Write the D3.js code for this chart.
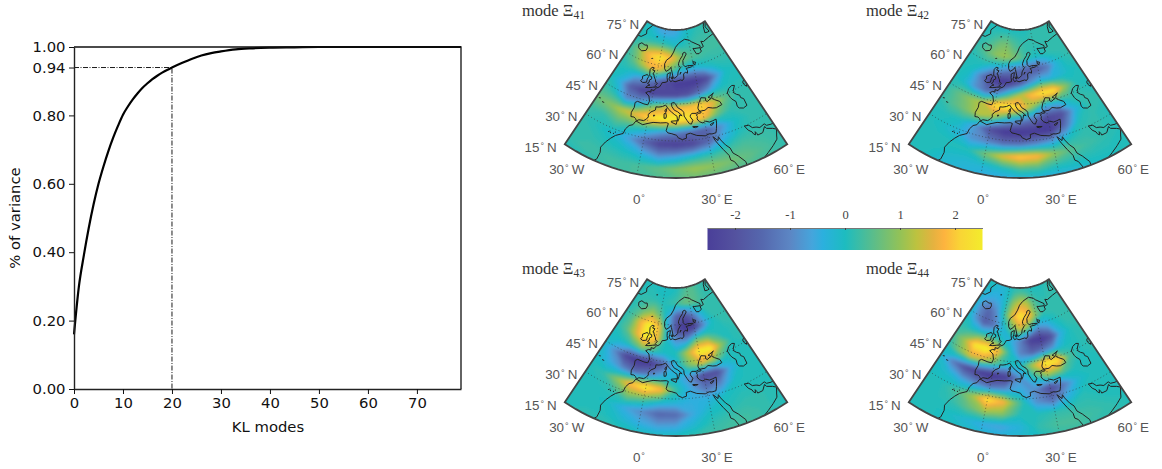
<!DOCTYPE html>
<html>
<head>
<meta charset="utf-8">
<script src="https://cdn.jsdelivr.net/npm/d3@7"></script>
<style>
  html, body { margin: 0; padding: 0; background: #fff; }
  svg { display: block; }
</style>
</head>
<body>
<svg id="chart" width="1162" height="469"></svg>
<script>
// cumulative variance against KL mode
const klModes = [0, 1, 2, 3, 4, 5, 6, 7, 8, 9, 10, 11, 12, 13, 14, 15, 16, 17, 18, 19, 20, 22, 24, 26, 28, 30, 33, 36, 40, 45, 50, 60, 70, 79];
const klVariance = [0.16, 0.30, 0.39, 0.47, 0.54, 0.60, 0.65, 0.695, 0.735, 0.77, 0.802, 0.826, 0.847, 0.865, 0.881, 0.894, 0.906, 0.916, 0.925, 0.933, 0.94, 0.953, 0.965, 0.975, 0.982, 0.987, 0.993, 0.996, 0.998, 0.999, 1, 1, 1, 1];
const xTicks = [0, 10, 20, 30, 40, 50, 60, 70];
const yTicks = [0, 0.2, 0.4, 0.6, 0.8, 0.94, 1];
const cutMode = 20;
const cutVariance = 0.94;

// field values on a lon/lat grid, estimated from each map panel
const gridLons = [-30, -22.5, -15, -7.5, 0, 7.5, 15, 22.5, 30, 37.5, 45, 52.5, 60];
const gridLats = [73.5, 68.5, 63.5, 58.5, 53.5, 48.5, 43.5, 38.5, 33.5, 28.5, 23.5, 18.5, 13.5];

const mode41 = [
  [.1, 0, -.2, -.5, -.6, -.6, -.5, -.2, 0, .1, .2, .2, .2],
  [.1, .1, .2, .3, .3, .2, 0, .1, .2, .3, .3, .3, .3],
  [.3, .8, 1.6, 2.1, 2.4, 2.1, 1.5, .8, .5, .4, .3, .3, .3],
  [.2, .5, 1.1, 1.7, 1.8, 1, .2, -.3, -.4, -.1, .1, .2, .2],
  [.1, 0, -.4, -.7, -1.3, -2.1, -2.5, -2.6, -2.6, -2.1, -.8, 0, .1],
  [.1, -.4, -1.7, -2.3, -2.4, -2.2, -2.1, -1.9, -1.2, -.5, 0, .1, .1],
  [.3, .1, -.9, -.6, .5, 1.3, 1.7, 1.9, 2.2, 1.6, .6, .2, .2],
  [.7, .9, 1.3, 1.7, 2.3, 2.6, 2.6, 2.4, 1.9, .7, .2, .2, .2],
  [.3, .2, .5, .3, 0, -.5, -.9, -1.3, -1.6, -.8, 0, .2, .2],
  [.2, .1, -.1, -.6, -1.5, -2.3, -2.4, -2.2, -1.5, -.4, .1, .2, .2],
  [.2, .2, .1, 0, -.3, -.8, -.5, -.1, .1, .3, .4, .3, .2],
  [.2, .3, .3, .3, .4, .6, .9, 1.1, 1, .8, .6, .4, .2],
  [.1, .1, .2, .3, .4, .4, .5, .6, .5, .4, .4, .3, .2]
];
const mode42 = [
  [.1, .1, .1, .1, .1, .1, .1, .1, .2, .2, .2, .2, .2],
  [.1, .2, .4, .7, .8, .5, .3, .2, .2, .2, .2, .2, .2],
  [.2, .4, .7, 1, 1.1, .9, .6, .2, 0, .1, .2, .2, .2],
  [.1, .1, .1, -.3, -.6, -1.1, -1.4, -1.7, -1.7, -1.2, -.3, .1, .2],
  [.1, 0, -.9, -2.2, -2.6, -2.5, -1.8, -.8, -.1, -.3, -.2, 0, .1],
  [.1, -.1, -.8, -1.3, -1, .3, 1.3, 2, 2.5, 2.4, 1, .1, .1],
  [.2, .6, 1, 1.3, 2.3, 2.6, 2.2, 1, -.3, -.2, .2, .2, .1],
  [.2, .5, .8, 1.3, 1, -.1, -.8, -1.3, -2.2, -2, -.4, .2, .2],
  [.1, .1, 0, -.7, -2, -2.6, -2.7, -2.6, -2.6, -1.3, .1, .2, .1],
  [.1, 0, -.2, -.8, -1, -1.3, -1.2, -.9, -.6, 0, .2, .2, .1],
  [.1, .1, .1, .1, .8, 1.6, 2.1, 1.9, 1, .5, .3, .2, .1],
  [.1, .1, -.1, -.2, -.2, 0, .4, .4, .1, .1, .1, .1, .1],
  [.1, 0, -.2, -.3, -.5, -.6, -.6, -.6, -.5, -.3, -.1, 0, .1]
];
const mode43 = [
  [.1, .1, .1, 0, 0, 0, .1, .3, .5, .5, .3, .2, .2],
  [.1, .2, .2, .2, .1, .2, .3, .6, .7, .5, .3, .2, .2],
  [.1, .3, .7, 1.1, .6, -.3, -1.5, -2, -1.3, -.3, .2, .2, .2],
  [.1, .5, 1.7, 2.6, 2, -.1, -2, -2.7, -2.4, -1, 0, .2, .2],
  [.1, .5, 1.5, 2.6, 2, 0, -.8, -.8, .6, .6, .1, .1, .2],
  [0, 0, .2, .8, .3, 0, .1, 1.3, 2.6, 2.6, 1, .1, .2],
  [-.1, -.9, -2.2, -2.7, -2.5, -1.6, -.3, .8, 1.5, 1, .1, .1, .1],
  [0, -.4, -.9, -1.3, -.9, -.3, -.2, -.9, -2.1, -2, -.4, .1, .1],
  [.1, .2, 1, 2, 2.6, 1.9, .3, -.5, -1.3, -.9, 0, .1, .1],
  [.1, .1, .2, .8, .5, 0, -.2, -.4, -.3, 0, .1, .1, .1],
  [.1, .1, 0, -.5, -.9, -1.5, -1.4, -.5, 0, .1, .2, .2, .1],
  [.1, .1, .1, -.1, -.4, -.6, -.5, -.1, .2, .3, .3, .2, .1],
  [.1, .2, .2, .2, .2, .2, .2, .3, .3, .3, .3, .2, .1]
];
const mode44 = [
  [.1, 0, -.2, -.2, 0, .2, .3, .2, .1, .1, .1, .2, .2],
  [-.2, -.4, -.5, -.4, .1, 1, 1.5, 1.3, .5, .2, .2, .2, .2],
  [-.1, -1, -1.5, -.9, .3, 1.6, 2.4, 2, .9, .2, .2, .2, .2],
  [0, -.8, -1.7, -1.3, -.3, .6, 1.5, .6, -.8, -.5, 0, .2, .2],
  [.2, .1, .2, .3, .1, -.3, -1, -2.4, -2.7, -2, -.4, .1, .2],
  [.4, 1.1, 2.4, 2.7, 2, .3, -1, -1.5, -1, -.5, 0, .1, .2],
  [.1, .8, 1.5, 1.3, .6, 0, 0, 1.3, 2.6, 2.4, .4, .1, .2],
  [-.1, -1.1, -2, -2.4, -2.7, -2.4, -.8, .1, 1, .6, .1, .1, .1],
  [0, -.1, -.5, -.8, -1.1, -.8, -.4, -.9, -2.1, -1.1, -.1, .1, .1],
  [.1, .1, .4, 1.1, 2.4, 1.8, .4, -.8, -1.4, -.4, .1, .1, .1],
  [.1, .1, .2, .6, 1.1, .9, .1, .1, .2, .2, .2, .1, .1],
  [.1, .1, 0, -.2, -.5, -.6, -.3, .2, .4, .4, .3, .2, .1],
  [.1, .1, 0, 0, -.1, -.2, -.1, 0, .2, .3, .2, .2, .1]
];
const panels = [
  { field: mode41, sub: "41", col: 0, row: 0 },
  { field: mode42, sub: "42", col: 1, row: 0 },
  { field: mode43, sub: "43", col: 0, row: 1 },
  { field: mode44, sub: "44", col: 1, row: 1 }
];

// colour bar
const barStops = [-2.5, -2, -1.5, -1, -0.6, -0.4, 0, 0.5, 1, 1.3, 1.6, 1.8, 2.1, 2.5];
const barColors = ["#4a3f99", "#54529f", "#5568ae", "#5c86c4", "#45a5dc", "#2bb0de", "#1dbcc0", "#59bd8c", "#93c257", "#bdc23f", "#e4b240", "#fdb33f", "#f9d535", "#f3ec2c"];
const barTicks = [-2, -1, 0, 1, 2];

// graticule
const latLabels = [75, 60, 45, 30, 15];
const lonLabels = [-30, 0, 30, 60];
const dottedLats = [30, 45, 60];
const dottedLons = [0, 30];

// coastlines, lon/lat
const coastMain = [[-16.8, 13], [-17.5, 14.7], [-16.5, 16], [-16.3, 19], [-17, 21], [-16, 23.7], [-14.5, 26], [-13, 27.7], [-10, 29.5], [-9.7, 31.5], [-8.5, 33.3], [-6.8, 34.1], [-5.9, 35.8], [-5.3, 35.8], [-3, 35.3], [-2, 35.1], [0, 35.9], [3, 36.8], [7, 37], [10, 37.3], [11, 37], [10.5, 35.5], [10.1, 34], [11, 33.2], [13, 32.9], [15.3, 32.3], [16, 31.3], [18, 30.5], [20, 31], [20, 32.5], [22, 32.9], [25, 31.7], [29, 31], [31, 31.5], [32.3, 31.2], [34.3, 31.3], [35, 32.8], [35.8, 35], [36.1, 36.6], [34, 36.3], [32.5, 36.1], [30.6, 36.8], [29, 36.3], [27.4, 37], [26.3, 38.3], [26.7, 39.3], [26.2, 40], [27.5, 40.4], [29, 40.5], [29, 41], [27.5, 41], [26.2, 40.6], [24, 40.8], [23, 40.3], [22.8, 39.5], [24, 38], [23, 36.5], [22, 36.8], [21, 38], [19.5, 40], [19.4, 41.5], [18.5, 42.4], [16, 43.5], [14.5, 45.2], [13.7, 45.6], [12.3, 45.3], [12.5, 44], [14, 42.5], [16, 41.8], [18.4, 40.2], [17, 40.5], [16.6, 39], [16, 38], [15.8, 38.2], [15.6, 40], [14, 40.8], [12.3, 41.8], [10.5, 42.9], [8.8, 44.4], [7, 43.7], [5, 43.3], [3.2, 43.2], [3.2, 41.9], [0.8, 40.8], [-0.3, 39.5], [0, 38.7], [-0.8, 37.6], [-2, 36.8], [-4.5, 36.7], [-5.6, 36], [-6.4, 36.8], [-7.4, 37.2], [-9, 37], [-9.5, 38.7], [-8.8, 41], [-9.2, 43], [-8, 43.7], [-4, 43.4], [-1.7, 43.4], [-1.2, 45], [-2.2, 47], [-4.7, 48], [-3, 48.8], [-1.5, 48.7], [-1.8, 49.7], [0.2, 49.6], [1.6, 50.8], [3.5, 51.4], [4.5, 52.5], [5, 53.3], [7, 53.5], [8.8, 54], [8.2, 55.5], [8.1, 57], [10.5, 57.7], [10.3, 56.2], [9.7, 55], [11, 54], [12.5, 54.4], [14.3, 54], [18.5, 54.7], [19.8, 54.4], [21, 55.3], [21, 57], [22.5, 57.7], [24.2, 57.2], [24.4, 58.3], [23.5, 59.2], [28, 59.5], [30, 60], [25, 60.2], [22.9, 59.9], [21.3, 60.8], [21.3, 62.5], [25.2, 65], [24, 65.8], [22, 65.5], [21.3, 64.5], [18.8, 63], [17.3, 61.5], [17.2, 60.7], [18.8, 59.8], [16.7, 58], [16.4, 56.6], [14.3, 55.5], [12.9, 55.5], [11.2, 58.9], [10.6, 59.8], [9.5, 58.9], [7, 58], [5.5, 59], [5, 61], [6.2, 62.5], [10, 64], [12.5, 66], [14.5, 68], [18, 69.5], [21, 70.2], [25.5, 71], [31, 70.3], [33, 69.5], [41, 67], [40.5, 66.2], [35, 66.5], [33, 66.7], [35, 64.3], [37.5, 64], [40.5, 64.7], [40, 65.8], [44, 66.2], [43.5, 68.5], [46, 68], [53, 68.7], [60, 69], [66, 69]];
const coastArabia = [[48, 30], [48.8, 27.8], [50, 26.5], [50.2, 25.5], [50.8, 24.8], [51.3, 26], [51.6, 25], [51.6, 24.3], [54, 24.2], [56, 26], [56.4, 24.9], [58.6, 23.6], [59.8, 22.5], [58.5, 20.5], [57.7, 19], [55, 17.5], [52, 16], [48, 14], [45, 12.8], [43.5, 12.7], [42.7, 15], [42.7, 16.5], [40.8, 19.5], [39, 21.5], [38.5, 23.8], [37, 25.5], [35.5, 28], [34.9, 29.5], [34.3, 28], [32.6, 29.9], [33, 28.5], [33.8, 27], [35.5, 24], [37.2, 21], [37.3, 19], [38.5, 18], [39.7, 15], [43, 12]];
const coastIran = [[48, 30], [50, 29.5], [51, 28], [52.6, 27.5], [54, 26.6], [56.5, 27], [57, 26], [59, 25.4], [62, 25.2]];
const coastGreenland = [[-33, 68], [-26, 68.5], [-22, 70.5], [-24, 72], [-20, 74.5], [-19, 77]];
const blackSea = [[29, 41.2], [31.5, 41.2], [33.5, 42], [36, 41.3], [38, 41], [41.5, 41.5], [41, 43], [38.5, 44.3], [37, 45.2], [38, 46.8], [39, 47], [35, 46], [36.5, 45.3], [34, 44.4], [33, 45], [33.5, 46], [30.7, 46.5], [28.7, 44.5], [27.7, 42.6], [28, 41.6], [29, 41.2]];
const caspianSea = [[47, 45], [49, 46.5], [51.5, 47], [53, 46.5], [51, 45], [51, 44.5], [50.3, 44.3], [51.5, 43], [53, 42], [52.8, 41], [54, 40], [53.8, 37], [51.5, 36.7], [49.5, 37.5], [49, 38.5], [49.5, 40.4], [48, 42], [47.5, 43], [47, 45]];
const aralSea = [[58.5, 46], [60, 46.6], [61, 45.5], [59, 43.7], [58.3, 45], [58.5, 46]];
const britain = [[-5.7, 50], [-3.5, 50.3], [-1, 50.8], [1.4, 51.2], [0.5, 51.7], [1.7, 52.7], [0.3, 53], [-0.2, 54], [-1.5, 55], [-2.2, 56], [-3, 56], [-2, 57.5], [-4, 57.6], [-3, 58.6], [-5, 58.6], [-6, 57.5], [-5.5, 56], [-5, 55], [-3.5, 54.9], [-3, 54], [-4.5, 53.3], [-4.2, 52.5], [-5.2, 51.8], [-3.2, 51.4], [-4.5, 51], [-5.7, 50]];
const ireland = [[-6, 52.2], [-6.2, 53.5], [-5.6, 54.6], [-7, 55.3], [-8.5, 54.7], [-10, 54], [-9.5, 53], [-10.3, 52], [-8.5, 51.6], [-6, 52.2]];
const iceland = [[-22.5, 64], [-24, 65.3], [-22, 66.4], [-18, 66.1], [-16, 66.5], [-14.6, 65.5], [-15, 64.3], [-18.8, 63.4], [-22.5, 64]];
const corsica = [[9.4, 43], [9.5, 42], [9.2, 41.4], [8.6, 42], [9.4, 43]];
const sardinia = [[9.2, 41.2], [9.7, 40], [9.5, 39.1], [8.5, 39], [8.3, 40.8], [9.2, 41.2]];
const sicily = [[12.5, 38], [15.6, 38.2], [15.1, 36.7], [12.5, 37.6], [12.5, 38]];
const crete = [[23.6, 35.5], [26.3, 35.2], [24.8, 34.9], [23.6, 35.2], [23.6, 35.5]];
const cyprus = [[32.4, 35], [34.5, 35.6], [33.8, 34.9], [33, 34.6], [32.4, 35]];
const mallorca = [[2.4, 39.6], [3.3, 39.8], [3, 39.3], [2.4, 39.6]];
const gotland = [[18.2, 57], [19, 57.9], [18.5, 57.3], [18.2, 57]];
const zealand = [[11, 55.7], [12.5, 56], [12.2, 55], [11, 55.7]];
const ladoga = [[31, 60], [32.5, 61], [30, 61.5], [31, 60]];
const novayaZemlya = [[52, 71], [55, 70.7], [57.5, 70.7], [56, 73], [60, 75], [68, 76.5], [60, 76], [54, 73.5], [52, 71]];
const canaries = [[-16.6, 28.1], [-16.1, 28.5], [-15.6, 28], [-14.2, 28.2], [-13.6, 29]];
const azores = [[-28.5, 38.5], [-28, 38.6], [-25.8, 37.8], [-25.2, 37.8]];
const faroes = [[-7.2, 62], [-6.6, 62.2]];
const janMayen = [[-8.9, 71], [-8.2, 71.1]];
const coastLines = [coastMain, coastArabia, coastIran, coastGreenland, blackSea, caspianSea, aralSea, britain, ireland, iceland, corsica, sardinia, sicily, crete, cyprus, mallorca, gotland, zealand, ladoga, novayaZemlya];
const coastDots = [canaries, azores, faroes, janMayen];

const svg = d3.select("#chart");
const defs = svg.append("defs");
defs.append("filter").attr("id", "soft")
  .attr("x", "-5%").attr("y", "-5%").attr("width", "110%").attr("height", "110%")
  .append("feGaussianBlur").attr("stdDeviation", 1.6);
defs.append("filter").attr("id", "ink")
  .append("feGaussianBlur").attr("stdDeviation", 0.3);

const color = d3.scaleLinear().domain(barStops).range(barColors).clamp(true);

drawVariancePlot();
panels.forEach(drawPanel);
drawColorBar();

function drawVariancePlot() {
  const x = d3.scaleLinear().domain([0, 79]).range([74, 461]);
  const y = d3.scaleLinear().domain([0, 1]).range([389, 47]);
  const g = svg.append("g");

  const line = d3.line().x((d, i) => x(klModes[i])).y(d => y(d)).curve(d3.curveMonotoneX);
  g.append("path").datum(klVariance)
    .attr("d", line)
    .attr("fill", "none").attr("stroke", "#000").attr("stroke-width", 2.2);

  // guide lines at the 94% cut
  g.append("path")
    .attr("d", d3.line()([[x(0), y(cutVariance)], [x(cutMode), y(cutVariance)], [x(cutMode), y(0)]]))
    .attr("fill", "none").attr("stroke", "#000").attr("stroke-width", 0.9)
    .attr("stroke-dasharray", "5,1.5,1,1.5");

  const xAxis = g.append("g").attr("transform", `translate(0,${y(0)})`)
    .call(d3.axisBottom(x).tickValues(xTicks).tickFormat(d3.format("d")).tickSizeInner(5).tickSizeOuter(0).tickPadding(3.5));
  const yAxis = g.append("g").attr("transform", `translate(${x(0)},0)`)
    .call(d3.axisLeft(y).tickValues(yTicks).tickFormat(d3.format(".2f")).tickSizeInner(5).tickSizeOuter(0).tickPadding(3.5));
  [xAxis, yAxis].forEach(a => {
    a.selectAll("text").attr("font-family", "DejaVu Sans").attr("font-size", 14.8).attr("fill", "#111");
    a.selectAll("line").attr("stroke", "#111").attr("stroke-width", 1);
    a.select(".domain").attr("stroke", "#222").attr("stroke-width", 1.4);
  });

  g.append("path")
    .attr("d", d3.line()([[x(0), y(1)], [x(79), y(1)], [x(79), y(0)]]))
    .attr("fill", "none").attr("stroke", "#111").attr("stroke-width", 1.3);

  g.append("text").attr("x", 268).attr("y", 432).attr("text-anchor", "middle")
    .attr("font-family", "DejaVu Sans").attr("font-size", 14.8).attr("fill", "#111")
    .text("KL modes");
  g.append("text").attr("transform", "translate(20,218) rotate(-90)").attr("text-anchor", "middle")
    .attr("font-family", "DejaVu Sans").attr("font-size", 14.8).attr("fill", "#111")
    .text("% of variance");
}

function drawPanel(panel, index) {
  const ox = 676 + panel.col * 344;
  const oy = 178 + panel.row * 258;

  const projection = d3.geoConicEquidistant()
    .parallels([30, 70]).rotate([-15, 0]).scale(141.35).translate([0, 0]);
  const base = projection([15, 15]);
  projection.translate([ox - base[0], oy - base[1]]);
  const geo = d3.geoPath(projection);

  // wedge outline, walked round in lon/lat
  const edgeLons = d3.range(-30, 60.5, 2.5);
  const outline = [
    ...edgeLons.map(lon => projection([lon, 15])),
    ...edgeLons.slice().reverse().map(lon => projection([lon, 75]))
  ];
  const outlineD = d3.line()(outline) + "Z";
  const clipId = "wedge" + index;
  defs.append("clipPath").attr("id", clipId).append("path").attr("d", outlineD);

  const g = svg.append("g");
  const inner = g.append("g").attr("clip-path", `url(#${clipId})`);

  // filled contours of the field on the lon/lat grid
  const nx = gridLons.length, ny = gridLats.length;
  const contours = d3.contours().size([nx, ny]).thresholds(d3.range(-3, 3, 0.06))(panel.field.flat());
  const lonOf = d3.scaleLinear().domain([0.5, nx - 0.5]).range([gridLons[0], gridLons[nx - 1]]);
  const latOf = d3.scaleLinear().domain([0.5, ny - 0.5]).range([gridLats[0], gridLats[ny - 1]]);
  const planar = d3.geoPath();
  const toMap = c => c.map(poly => poly.map(ring => ring.map(p => projection([lonOf(p[0]), latOf(p[1])]))));
  inner.append("g").attr("filter", "url(#soft)")
    .selectAll("path").data(contours).join("path")
    .attr("d", d => planar({ type: "MultiPolygon", coordinates: toMap(d.coordinates) }))
    .attr("fill", d => color(d.value));

  const dots = inner.append("g").attr("fill", "none").attr("stroke", "#333").attr("stroke-opacity", 0.75)
    .attr("stroke-width", 0.8).attr("stroke-dasharray", "1,2.4");
  dottedLats.forEach(lat => {
    dots.append("path").attr("d", geo({ type: "LineString", coordinates: edgeLons.map(lon => [lon, lat]) }));
  });
  dottedLons.forEach(lon => {
    dots.append("path").attr("d", geo({ type: "LineString", coordinates: [[lon, 15], [lon, 75]] }));
  });

  const coast = inner.append("g").attr("fill", "none").attr("stroke", "#222")
    .attr("stroke-width", 1).attr("stroke-linejoin", "round").attr("filter", "url(#ink)");
  coastLines.forEach(c => {
    coast.append("path").attr("d", geo({ type: "LineString", coordinates: c }));
  });
  const isles = inner.append("g").attr("fill", "#222");
  isles.selectAll("circle").data(coastDots.flat()).join("circle")
    .attr("cx", d => projection(d)[0]).attr("cy", d => projection(d)[1]).attr("r", 0.6);

  g.append("path").attr("d", outlineD)
    .attr("fill", "none").attr("stroke", "#444").attr("stroke-width", 1.8).attr("stroke-linejoin", "miter");

  // graticule labels
  const labels = g.append("g").attr("font-family", "Liberation Sans").attr("font-size", 13.4).attr("fill", "#555");
  latLabels.forEach(lat => {
    const p = projection([-30, lat]);
    const t = labels.append("text").attr("x", p[0] - 8).attr("y", p[1] + 7.5).attr("text-anchor", "end");
    addDegreeText(t, lat, "N");
  });
  lonLabels.forEach(lon => {
    const p = projection([lon, 15]);
    const t = labels.append("text").attr("x", p[0] + 2).attr("y", p[1] + 30).attr("text-anchor", "middle");
    if (lon === 0) addDegreeText(t, 0, "");
    else addDegreeText(t, Math.abs(lon), lon < 0 ? "W" : "E");
  });

  // panel title
  const title = g.append("text").attr("x", ox - 154).attr("y", oy - 162)
    .attr("font-family", "Liberation Serif").attr("font-size", 16.5).attr("fill", "#333");
  title.append("tspan").text("mode \u039e");
  title.append("tspan").attr("font-size", 11.5).attr("dy", 3).text(panel.sub);
}

function addDegreeText(t, value, hemi) {
  t.append("tspan").text(value);
  t.append("tspan").attr("font-size", 9).attr("dx", 1).attr("dy", -3).text("\u00b0");
  if (hemi) t.append("tspan").attr("dx", 3).attr("dy", 3).text(hemi);
}

function drawColorBar() {
  const x = d3.scaleLinear().domain([-2.5, 2.5]).range([707.5, 982.5]);
  const g = svg.append("g");
  const grad = defs.append("linearGradient").attr("id", "barFill");
  grad.selectAll("stop").data(barStops).join("stop")
    .attr("offset", d => (d + 2.5) / 5)
    .attr("stop-color", d => color(d));
  g.append("rect").attr("x", x(-2.5)).attr("width", x(2.5) - x(-2.5))
    .attr("y", 228).attr("height", 22).attr("fill", "url(#barFill)");
  const axis = g.append("g").attr("transform", "translate(0,228)")
    .call(d3.axisTop(x).tickValues(barTicks).tickFormat(d => d).tickSizeInner(-2).tickSizeOuter(0).tickPadding(9));
  axis.selectAll("text").attr("font-family", "Liberation Serif").attr("font-size", 12.5).attr("fill", "#444");
  axis.selectAll("line").attr("stroke", "#444");
  axis.select(".domain").attr("stroke", "#777").attr("stroke-width", 1);
}
</script>
</body>
</html>
